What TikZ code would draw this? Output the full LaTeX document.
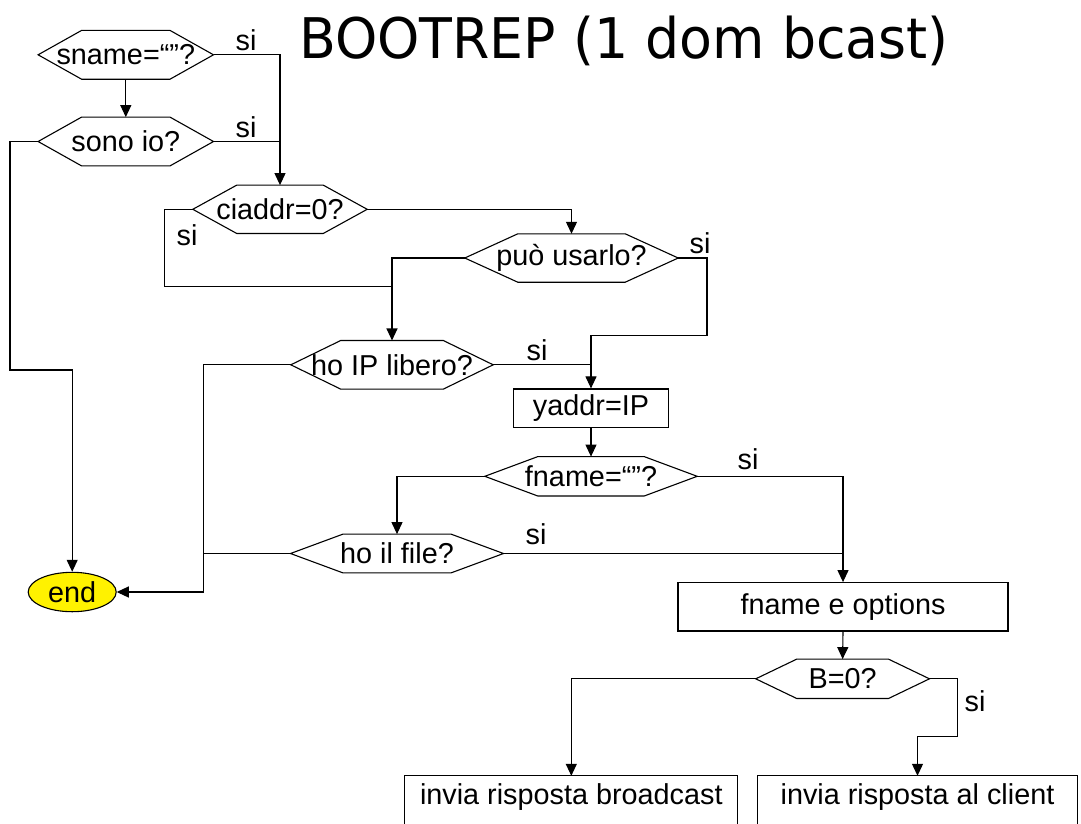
\documentclass[tikz,border=0pt]{standalone}
\usepackage{fontspec}
\setmainfont{Liberation Sans}
\newfontfamily\titlefont{DejaVu Sans}
\usetikzlibrary{arrows.meta,shapes.geometric}
\tikzset{
  ln/.style={line width=1.1pt, draw=black},
  arr/.style={ln, -{Triangle[length=12pt,width=11pt]}},
  hexbox/.style={draw=none, inner sep=0pt, font=\fontsize{28.8}{34}\selectfont},
  hexline/.style={ln, line join=miter},
  boxn/.style={draw=black, line width=1.1pt, inner sep=0pt, font=\fontsize{28.8}{34}\selectfont},
  openbox/.style={draw=none, inner sep=0pt, font=\fontsize{28.8}{34}\selectfont},
  lbl/.style={inner sep=0pt, font=\fontsize{28.8}{34}\selectfont},
  endnode/.style={ellipse, draw=black, line width=1.1pt, fill=yellow, inner sep=0pt, font=\fontsize{28.8}{34}\selectfont}
}
\newcommand\hexagonnode[7]{%
  \node[hexbox, minimum width=#4pt, minimum height=#5pt] (#1) at (#2,#3) {#7};
  \draw[hexline] (#1.west) -- ([xshift=#6pt]#1.north west) -- ([xshift=-#6pt]#1.north east) -- (#1.east) -- ([xshift=-#6pt]#1.south east) -- ([xshift=#6pt]#1.south west) -- cycle;
}
\begin{document}
\begin{tikzpicture}[x=1pt,y=-1pt]
\useasboundingbox (0,0) rectangle (1081,823);
\fill[white] (0,0) rectangle (1081,823);

% title
\node[inner sep=0pt, anchor=base west, xscale=0.96, font=\titlefont\fontsize{56}{66}\selectfont] (title) at (299,58) {BOOTREP (1 dom bcast)};

% decisions
\hexagonnode{sname}{125.8}{54.8}{175}{48.4}{43.5}{sname=“”?}
\hexagonnode{sono}{125.8}{141.5}{175}{48.4}{43.5}{sono io?}
\hexagonnode{ciaddr}{280}{209.3}{174}{48}{44}{ciaddr=0?}
\hexagonnode{puo}{571.5}{258}{213}{48}{53}{può usarlo?}
\hexagonnode{hoip}{392}{364.8}{202}{48.3}{50}{ho IP libero?}
\hexagonnode{fname}{591}{476.3}{212}{39}{53}{fname=“”?}
\hexagonnode{hofile}{397}{553.5}{212.6}{38.4}{52.5}{ho il file?}
\hexagonnode{bzero}{842.6}{678.8}{173.3}{39}{41}{B=0?}

% processes
\node[boxn, minimum width=155.4pt, minimum height=38.7pt] (yaddr) at (591,408.3) {yaddr=IP};
\node[boxn, minimum width=330pt, minimum height=48.3pt] (fnopt) at (843,606.8) {fname e options};
\node[openbox, minimum width=332.6pt, minimum height=42pt] (bcast) at (571.3,797) {invia risposta broadcast};
\draw[ln] ([yshift=-20pt]bcast.south west) -- (bcast.north west) -- (bcast.north east) -- ([yshift=-20pt]bcast.south east);
\node[openbox, minimum width=319pt, minimum height=42pt] (client) at (917.5,797) {invia risposta al client};
\draw[ln] ([yshift=-20pt]client.south west) -- (client.north west) -- (client.north east) -- ([yshift=-20pt]client.south east);

% terminal
\node[endnode, minimum width=88pt, minimum height=39.4pt] (end) at (72.2,592) {end};

% helper coordinates
\coordinate (c1) at (10,370);
\coordinate (c2) at (164.3,286.7);
\coordinate (c4) at (707,335.7);
\coordinate (c5) at (203.3,592);
\coordinate (c6) at (957.7,736.7);

% connectors
\draw[arr] (sname.south) -- (sono.north);
\draw[arr] (sname.east) -| (ciaddr.north);
\draw[ln] (sono.east) -- (ciaddr.north |- sono.east);
\draw[arr] (sono.west) -| (c1) -| (end.north);
\draw[arr] (ciaddr.east) -| (puo.north);
\draw[ln] (ciaddr.west) -| (c2) -- (hoip.north |- c2);
\draw[arr] (puo.west) -| (hoip.north);
\draw[arr] (puo.east) -| (c4) -| (yaddr.north);
\draw[ln] (hoip.east) -- (yaddr.north |- hoip.east);
\draw[arr] (hoip.west) -| (c5) -- (end.east);
\draw[arr] (yaddr.south) -- (fname.north);
\draw[arr] (fname.east) -| (fnopt.north);
\draw[arr] (fname.west) -| (hofile.north);
\draw[ln] (hofile.east) -- (fnopt.north |- hofile.east);
\draw[ln] (hofile.west) -- (c5 |- hofile.west);
\draw[arr] (fnopt.south) -- (bzero.north);
\draw[arr] (bzero.west) -| (bcast.north);
\draw[arr] (bzero.east) -| (c6) -| (client.north);

% labels
\node[lbl] (si1) at (246,40) {si};
\node[lbl] (si2) at (246,127) {si};
\node[lbl] (si3) at (187,235) {si};
\node[lbl] (si4) at (700,243) {si};
\node[lbl] (si5) at (537,350) {si};
\node[lbl] (si6) at (748,459) {si};
\node[lbl] (si7) at (536,534) {si};
\node[lbl] (si8) at (975,701) {si};
\end{tikzpicture}
\end{document}
